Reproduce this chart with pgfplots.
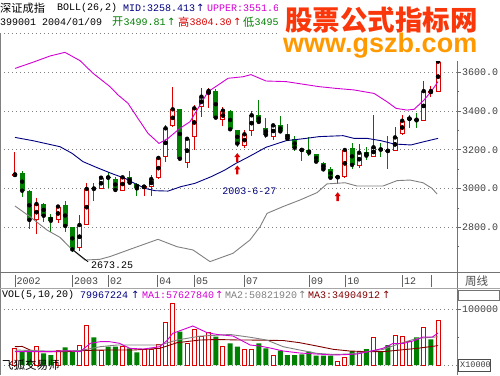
\documentclass[border=0pt]{standalone}
\usepackage{pgfplots}
\pgfplotsset{compat=1.18}
\usepackage{pgfplotstable}
\usepackage{fontspec}
\setmainfont{Liberation Mono}
\newfontfamily\mono{Liberation Mono}
\newfontfamily\cjk{Noto Sans CJK SC}
\newfontfamily\sym{DejaVu Sans}
\newfontfamily\wmfont{Liberation Sans}
\definecolor{cRed}{RGB}{220,0,0}
\definecolor{cGrn}{RGB}{0,128,0}
\definecolor{cMag}{RGB}{210,0,210}
\definecolor{cNavy}{RGB}{0,0,128}
\definecolor{cGray}{RGB}{128,128,128}
\definecolor{cMar}{RGB}{128,0,0}
\definecolor{cWm}{RGB}{250,55,10}
\definecolor{cWmb}{RGB}{255,153,0}
\newcommand{\tf}{\mono\fontsize{10}{12}\selectfont}
\pgfdeclareplotmark{uparr}{%
  \pgfpathmoveto{\pgfqpoint{0pt}{4.5pt}}%
  \pgfpathlineto{\pgfqpoint{-3pt}{0.5pt}}%
  \pgfpathlineto{\pgfqpoint{-1.2pt}{0.5pt}}%
  \pgfpathlineto{\pgfqpoint{-1.2pt}{-4.5pt}}%
  \pgfpathlineto{\pgfqpoint{1.2pt}{-4.5pt}}%
  \pgfpathlineto{\pgfqpoint{1.2pt}{0.5pt}}%
  \pgfpathlineto{\pgfqpoint{3pt}{0.5pt}}%
  \pgfpathclose\pgfusepathqfill}

\pgfplotstableread{
i O H L C
0 3068 3187 3066 3073
3 2836 2950 2764 2920
6 2836 2912 2824 2907
9 2691 2865 2679 2812
10 2810 3030 2810 2998
12 2999 3066 2999 3056
15 2989 3065 2987 3058
18 3006 3013 2962 3010
19 3010 3070 2960 3049
20 3053 3161 3049 3158
21 3161 3330 3135 3311
22 3321 3524 3316 3409
24 3134 3257 3106 3257
25 3268 3430 3199 3414
26 3423 3521 3368 3474
27 3486 3521 3417 3504
29 3352 3423 3323 3402
32 3220 3300 3208 3280
33 3297 3400 3273 3378
36 3268 3335 3251 3326
46 3061 3202 3053 3199
48 3118 3230 3106 3185
50 3165 3378 3161 3213
53 3192 3316 3192 3264
54 3280 3380 3276 3350
55 3359 3380 3311 3361
57 3350 3555 3349 3503
58 3495 3529 3474 3503
59 3499.81 3804.30 3496 3655
}\upTab

\pgfplotstableread{
i O H L C
1 3082 3089 2958 2989
2 2989 2993 2793 2838
4 2920 2924 2829 2860
5 2853 2869 2776 2834
7 2915 2937 2774 2807
8 2800 2800 2673.25 2686
11 3003 3027 2937 2998
13 3060 3086 3003 3056
14 3049 3061 2989 2993
16 3060 3089 3027 3030
17 3023 3030 2962 3001
23 3409 3409 3140 3154
28 3504 3512 3366 3366
30 3402 3405 3302 3306
31 3302 3302 3213 3232
34 3378 3457 3337 3344
35 3313 3362 3263 3277
37 3326 3373 3290 3295
38 3283 3333 3244 3257
39 3254 3270 3194 3211
40 3200 3203 3144 3199
41 3197 3268 3168 3185
42 3177 3180 3130 3139
43 3132 3137 3091 3099
44 3103 3113 3049 3056
45 3061 3065 3026 3058
47 3211 3234 3099 3122
49 3187 3216 3146 3170
51 3203 3233 3165 3201
52 3196 3270 3103 3194
56 3359 3388 3311 3352
}\dnTab

\pgfplotstableread{
i V
0 30000
3 33000
6 25800
9 36000
10 70300
12 25800
15 34200
18 28200
19 28200
20 37200
21 76900
22 110000
24 39000
25 64300
26 51000
27 58200
29 34200
32 28200
33 28200
36 18000
45 7200
46 13200
48 24000
50 49900
53 54000
54 51000
55 42000
57 67900
59 79967
}\vupTab

\pgfplotstableread{
i V
1 23500
2 23500
4 21000
5 18000
7 31900
8 24000
11 49900
13 33000
14 33000
16 30000
17 22800
23 60000
28 51000
30 39000
31 33000
34 39000
35 30000
37 25800
38 18000
39 18000
40 19200
41 24000
42 16800
43 16800
44 16800
47 25200
49 28800
51 25200
52 36000
56 49900
58 46300
}\vdnTab

\begin{document}
\begin{tikzpicture}[x=1pt,y=1pt]
\path[use as bounding box, fill=white] (0pt,0pt) rectangle (500pt,375pt);

% ---------------- main price panel ----------------
\begin{axis}[at={(0pt,103pt)}, anchor=south west, scale only axis,
  width=457pt, height=239pt,
  xmin=-2.09, xmax=61.64, ymin=2569.4, ymax=3802.8,
  axis line style={draw=none}, xtick=\empty,
  ytick={2800,3000,3200,3400,3600},
  yticklabels={2800.0,3000.0,3200.0,3400.0,3600.0},
  minor ytick={2700,2900,3100,3300,3500,3700},
  ytick pos=right, yticklabel pos=right, tick align=outside,
  major tick length=4pt, minor tick length=2pt,
  tick style={black!60, line width=0.8pt},
  yticklabel style={font=\tf, text=black!75, anchor=west, inner sep=0pt, xshift=1pt},
  ymajorgrids, major grid style={cGray, line width=0.7pt, dash pattern=on 1pt off 3pt}]

% wicks
\addplot[only marks, mark=none, forget plot, error bars/.cd, y dir=both, y explicit, error mark=none,
  error bar style={cRed, line width=1pt}]
  table[x=i, y=C, y error plus expr={\thisrow{H}-\thisrow{C}}, y error minus expr={\thisrow{C}-\thisrow{L}}] {\upTab};
\addplot[only marks, mark=none, forget plot, error bars/.cd, y dir=both, y explicit, error mark=none,
  error bar style={cGrn, line width=1pt}]
  table[x=i, y=C, y error plus expr={\thisrow{H}-\thisrow{C}}, y error minus expr={\thisrow{C}-\thisrow{L}}] {\dnTab};
% bodies
\addplot[only marks, mark=none, forget plot, error bars/.cd, y dir=both, y explicit, error mark=none,
  error bar style={cRed, line width=5pt}]
  table[x=i, y expr={(\thisrow{O}+\thisrow{C})/2}, y error expr={max(abs(\thisrow{C}-\thisrow{O})/2,4)}] {\upTab};
\addplot[only marks, mark=none, forget plot, error bars/.cd, y dir=both, y explicit, error mark=none,
  error bar style={white, line width=3pt}]
  table[x=i, y expr={(\thisrow{O}+\thisrow{C})/2}, y error expr={max(abs(\thisrow{C}-\thisrow{O})/2-5.16,0)}] {\upTab};
\addplot[only marks, mark=none, forget plot, error bars/.cd, y dir=both, y explicit, error mark=none,
  error bar style={cGrn, line width=5pt}]
  table[x=i, y expr={(\thisrow{O}+\thisrow{C})/2}, y error expr={max(abs(\thisrow{C}-\thisrow{O})/2,3)}] {\dnTab};

% Bollinger bands
\addplot[cMag, line width=0.9pt] coordinates {(0,3620)(2.37,3650)(4.88,3684)(6.97,3703)(9.07,3660)(10.88,3595)(13.25,3526)(14.37,3483)(15.76,3440)(17.15,3362)(18.55,3285)(20.08,3233)(21.34,3259)(23.01,3311)(24.41,3345)(25.80,3431)(26.92,3500)(28.31,3534)(29.71,3569)(31.80,3577)(32.91,3588)(35.01,3555)(37.80,3552)(42.40,3526)(44.77,3517)(47.28,3509)(50.07,3491)(51.88,3448)(53.14,3414)(54.67,3405)(55.65,3409)(57.04,3457)(58.02,3500)(59,3552)};
\addplot[cNavy, line width=0.9pt] coordinates {(0,3264)(2.51,3247)(6.28,3216)(7.95,3182)(9.48,3139)(11.44,3108)(13.67,3075)(15.34,3053)(16.18,3036)(18.13,3001)(19.53,2989)(21.34,2987)(23.15,3010)(25.10,3027)(27.34,3061)(29.29,3096)(30.82,3130)(32.64,3165)(35.01,3213)(37.80,3247)(40.59,3259)(42.40,3268)(45.75,3273)(47.28,3259)(49.1,3259)(51.05,3247)(52.86,3230)(55.23,3225)(57.04,3242)(59,3259)};
\addplot[cGray, line width=0.9pt] coordinates {(0,2910)(2.09,2855)(4.46,2786)(6.28,2748)(7.95,2686)(9.76,2631)(11.85,2635)(13.25,2649)(16.46,2692)(19.94,2738)(22.59,2700)(24.83,2683)(27.20,2623)(30.40,2666)(32.78,2735)(34.17,2803)(35.15,2872)(37.38,2907)(39.75,2941)(42.12,2979)(43.51,3024)(46.03,3030)(47.70,3013)(51.32,3013)(53.28,3041)(55.09,3044)(56.90,3030)(58.16,3001)(58.86,2972)};

% annotations
\addplot[black, line width=0.8pt] coordinates {(8,2686)(10.2,2622)};
\addplot[only marks, mark=uparr, cRed] coordinates {(31,3160)(31,3096)(45,2958)};
\node[anchor=center, inner sep=0, font=\tf, text=cNavy] at (axis cs:32.7,2987) {2003-6-27};
\node[anchor=center, inner sep=0, font=\tf, text=black] at (axis cs:13.53,2605.5) {2673.25};
\end{axis}

% ---------------- volume panel ----------------
\begin{axis}[at={(0pt,2pt)}, anchor=south west, scale only axis,
  width=457pt, height=83pt,
  xmin=-2.09, xmax=61.64, ymin=-14414, ymax=135135,
  axis line style={draw=none}, xtick=\empty,
  ytick={0,100000}, yticklabels={,100000}, minor ytick={50000},
  ytick pos=right, yticklabel pos=right, tick align=outside,
  major tick length=4pt, minor tick length=2pt,
  tick style={black!60, line width=0.8pt},
  yticklabel style={font=\tf, text=black!75, anchor=west, inner sep=0pt, xshift=1pt},
  scaled y ticks=false,
  ymajorgrids, major grid style={cGray, line width=0.7pt, dash pattern=on 1pt off 3pt}]
\addplot[ybar, bar width=4pt, bar shift=0pt, draw=cRed, fill=white, line width=1pt] table[x=i, y=V] {\vupTab};
\addplot[ybar, bar width=5pt, bar shift=0pt, draw=none, fill=cGrn] table[x=i, y=V] {\vdnTab};
\addplot[cMar, line width=0.9pt] coordinates {(0,33000)(1,33500)(2.1,27000)(3.5,24000)(4.9,24000)(7.3,24000)(9.1,25800)(11.9,27000)(14.2,27000)(16.5,27000)(20.2,30000)(22.6,40200)(25.8,45000)(28.2,45900)(31.4,45000)(32.8,45000)(37.4,44100)(39.7,40200)(42.1,34200)(44.4,28200)(46.7,25200)(49.1,24000)(51.3,24000)(53.7,27000)(56.1,30000)(59,34905)};
\addplot[cGray, line width=0.9pt] coordinates {(0,27000)(4.9,25000)(9.1,26000)(11.9,33000)(14.2,36000)(17.4,36000)(20.2,36000)(22.6,45000)(25.8,52000)(30,55000)(32.8,50000)(35.1,45000)(37.4,33000)(39.7,27000)(42.1,21000)(44.4,19000)(46.7,19800)(49.1,24000)(51.3,28000)(53.7,39000)(56.1,48000)(59,50822)};
\addplot[cMag, line width=0.9pt] coordinates {(0,24000)(2.5,24000)(4.9,24000)(7.3,25800)(9.1,24000)(10.5,39000)(11.9,42000)(13.2,42000)(14.6,39000)(16,30000)(17.9,28800)(20.2,33000)(21.2,44000)(22,57000)(24.8,70300)(26.8,58200)(28.2,55000)(30.4,52200)(32.8,36000)(34.2,34000)(35.6,30600)(37.4,25200)(39.7,21600)(42.1,19800)(44.4,18000)(45.7,18500)(47.7,19800)(49.5,24600)(51.3,30000)(52.7,38700)(54.1,38700)(55.5,43200)(56.9,50400)(58.2,50400)(59,57628)};
\end{axis}

% ---------------- frame ----------------
\draw[black!50, line width=1pt] (0.5,0) -- (0.5,342);
\draw[cGray, line width=0.7pt, dash pattern=on 1pt off 3pt] (0,342) -- (500,342);
\draw[black!55, line width=1pt] (457,0) -- (457,342);
\draw[black!55, line width=1pt] (0,103) -- (500,103);
\draw[black!35, line width=0.8pt] (0,87) -- (500,87);
\draw[black!55, line width=0.8pt] (458,75) rectangle (499,85);
% date strip
\foreach \x/\l in {15/2002,72.3/2003,108.3/02,157.7/04,194.3/05,244.3/07,309.3/09,345.7/10,402.3/12}{
  \draw[black!60, line width=0.8pt] (\x,88) -- (\x,100);
  \node[anchor=west, inner sep=0, font=\tf, text=black!75] at (\x+1.5,94) {\l};}
\draw[black!60, line width=0.8pt] (431.7,88) -- (431.7,100);
\node[anchor=west, inner sep=0, font=\cjk\fontsize{11.5}{12}\selectfont, text=black!70] at (465,94) {周线};
% X10000 box
\draw[black!70, line width=0.8pt, fill=white] (458,4) rectangle (490,16);
\node[anchor=west, inner sep=0, font=\mono\fontsize{8.5}{10}\selectfont, text=black!75] at (460,10) {X10000};

% ---------------- header texts ----------------
\node[anchor=west, inner sep=0, font=\cjk\fontsize{11.2}{12}\selectfont] at (0,367) {深证成指};
\node[anchor=west, inner sep=0, font=\tf] at (57,367) {BOLL(26,2)};
\node[anchor=west, inner sep=0, font=\tf, text=cNavy] at (123,367) {MID:3258.413};
\node[anchor=west, inner sep=0, font=\sym\fontsize{10}{12}\selectfont, text=cNavy] at (196,367) {↑};
\node[anchor=west, inner sep=0, font=\tf, text=cMag] at (207,367) {UPPER:3551.693};

\node[anchor=west, inner sep=0, font=\tf] at (0,353) {399001 2004/01/09};
\node[anchor=west, inner sep=0, font=\cjk\fontsize{11.2}{12}\selectfont, text=cGrn] at (112,353) {开};
\node[anchor=west, inner sep=0, font=\tf, text=cGrn] at (123.5,353) {3499.81};
\node[anchor=west, inner sep=0, font=\sym\fontsize{10}{12}\selectfont, text=cGrn] at (167,353) {↑};
\node[anchor=west, inner sep=0, font=\cjk\fontsize{11.2}{12}\selectfont, text=cRed] at (178,353) {高};
\node[anchor=west, inner sep=0, font=\tf, text=cRed] at (189.5,353) {3804.30};
\node[anchor=west, inner sep=0, font=\sym\fontsize{10}{12}\selectfont, text=cRed] at (233,353) {↑};
\node[anchor=west, inner sep=0, font=\cjk\fontsize{11.2}{12}\selectfont, text=cGrn] at (243,353) {低};
\node[anchor=west, inner sep=0, font=\tf, text=cGrn] at (254.5,353) {3495.12};

% volume header
\node[anchor=west, inner sep=0, font=\tf] at (2,80) {VOL(5,10,20)};
\node[anchor=west, inner sep=0, font=\tf, text=cNavy] at (80,80) {79967224};
\node[anchor=west, inner sep=0, font=\sym\fontsize{10}{12}\selectfont, text=cNavy] at (131,80) {↑};
\node[anchor=west, inner sep=0, font=\tf, text=cMag] at (142,80) {MA1:57627840};
\node[anchor=west, inner sep=0, font=\sym\fontsize{10}{12}\selectfont, text=cMag] at (215,80) {↑};
\node[anchor=west, inner sep=0, font=\tf, text=cGray] at (225,80) {MA2:50821920};
\node[anchor=west, inner sep=0, font=\sym\fontsize{10}{12}\selectfont, text=cGray] at (298,80) {↑};
\node[anchor=west, inner sep=0, font=\tf, text=cMar] at (308,80) {MA3:34904912};
\node[anchor=west, inner sep=0, font=\sym\fontsize{10}{12}\selectfont, text=cMar] at (382,80) {↑};

\node[anchor=west, inner sep=0, font=\cjk\fontsize{11.5}{12}\selectfont] at (2,10) {飞狐交易师};

% ---------------- watermark ----------------
\fill[white] (278,314) rectangle (500,375);
\node[anchor=west, inner sep=0, font=\cjk\bfseries\fontsize{27.5}{28}\selectfont, text=cWm] at (285,355) {股票公式指标网};
\node[anchor=base west, inner sep=0, font=\wmfont\bfseries\fontsize{27}{28}\selectfont, text=cWmb] at (283,322.3) {www.gszb.com};
\end{tikzpicture}
\end{document}
